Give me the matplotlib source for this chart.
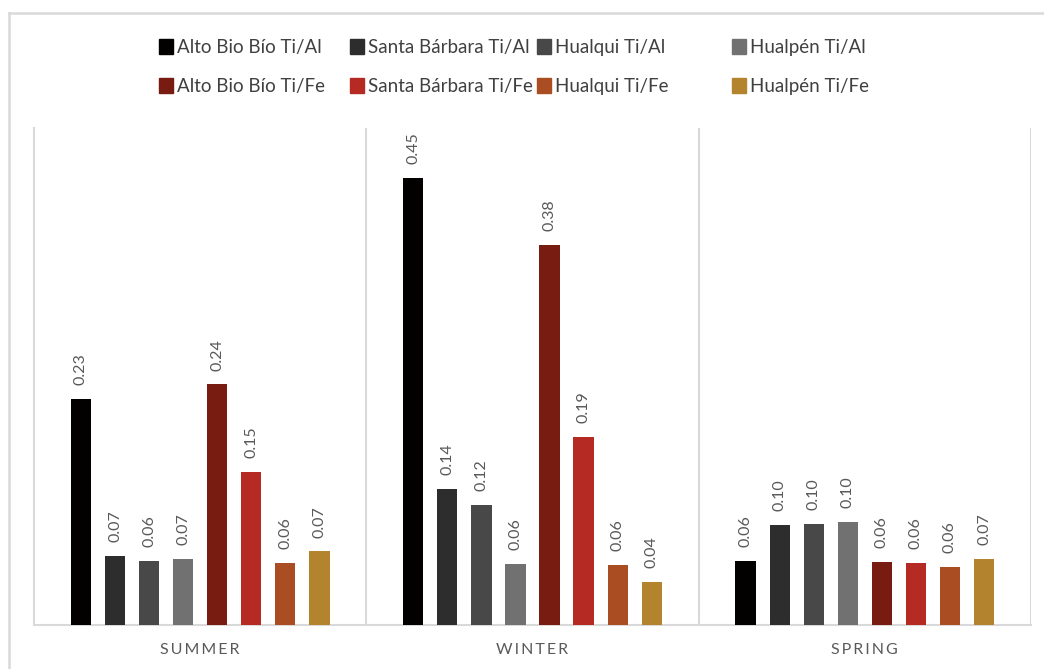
import matplotlib
matplotlib.use("Agg")
import matplotlib.pyplot as plt
from matplotlib.patches import Patch
from matplotlib.lines import Line2D
import numpy as np

plt.rcParams['font.family'] = ['Lato', 'DejaVu Sans']

seasons = ["SUMMER", "WINTER", "SPRING"]
series = [
    "Alto Bio Bío Ti/Al", "Santa Bárbara Ti/Al", "Hualqui Ti/Al", "Hualpén Ti/Al",
    "Alto Bio Bío Ti/Fe", "Santa Bárbara Ti/Fe", "Hualqui Ti/Fe", "Hualpén Ti/Fe",
]
colors = ["#030000", "#2d2d2d", "#484848", "#717171",
          "#781b10", "#b52b24", "#ab4d22", "#b3832e"]

# ratios per series, in season order (summer, winter, spring)
alto_tial = [0.227, 0.450, 0.064]
santa_tial = [0.069, 0.137, 0.101]
hualqui_tial = [0.064, 0.121, 0.102]
hualpen_tial = [0.066, 0.061, 0.104]
alto_tife = [0.242, 0.382, 0.063]
santa_tife = [0.154, 0.189, 0.062]
hualqui_tife = [0.062, 0.060, 0.058]
hualpen_tife = [0.074, 0.043, 0.066]

values = [alto_tial, santa_tial, hualqui_tial, hualpen_tial,
          alto_tife, santa_tife, hualqui_tife, hualpen_tife]

W, H = 1044, 669
fig = plt.figure(figsize=(W / 100, H / 100), dpi=100)
ax = fig.add_axes([34 / W, 1 - 625 / H, (1031 - 34) / W, (625 - 128) / H])

grid_c = "#d9d9d9"
label_c = "#595959"

x = np.arange(len(seasons))
step = 0.1025
width = 0.061
n = len(series)
for i, (name, vals, c) in enumerate(zip(series, values, colors)):
    pos = x + (i - (n - 1) / 2) * step
    bars = ax.bar(pos, vals, width, color=c, label=name, zorder=3)
    for b, v in zip(bars, vals):
        ax.text(b.get_x() + b.get_width() / 2, v + 0.014, f"{v:.2f}",
                rotation=90, ha="center", va="bottom", fontsize=11.5,
                color=label_c)

ax.set_xlim(-0.5, 2.5)
ax.set_ylim(0, 0.5)
ax.set_yticks([])
ax.set_xticks(x)
ax.set_xticklabels(["\u2009".join(s) for s in seasons], fontsize=11.5,
                   color=label_c)
ax.tick_params(axis="x", length=0, pad=13)
for sp in ["top", "right"]:
    ax.spines[sp].set_visible(False)
ax.spines["left"].set_color(grid_c)
ax.spines["left"].set_linewidth(1.5)
ax.spines["bottom"].set_color(grid_c)
ax.spines["bottom"].set_linewidth(1.5)
for sep in [0.5, 1.5, 2.5]:
    ax.axvline(sep, color=grid_c, lw=1.5, zorder=1)

# outer chart frame (top and left)
fig.add_artist(Line2D([9 / W, 9 / W], [0, 1 - 13 / H], color=grid_c, lw=1.8))
fig.add_artist(Line2D([9 / W, 1], [1 - 13 / H, 1 - 13 / H], color=grid_c, lw=1.8))

# legend: four columns, Ti/Al on the first row, Ti/Fe on the second
col_x = [150, 341, 528, 723]
for j, cx in enumerate(col_x):
    hs = [Patch(color=colors[j]), Patch(color=colors[j + 4])]
    lb = [series[j], series[j + 4]]
    fig.legend(hs, lb, loc="upper left",
               bbox_to_anchor=(cx / W, 1 - 30 / H),
               frameon=False, fontsize=13.5, handlelength=0.7,
               handleheight=0.85, handletextpad=0.25,
               labelspacing=1.15, borderpad=0, labelcolor="#404040")

fig.savefig("out.png", dpi=100, facecolor="white")
